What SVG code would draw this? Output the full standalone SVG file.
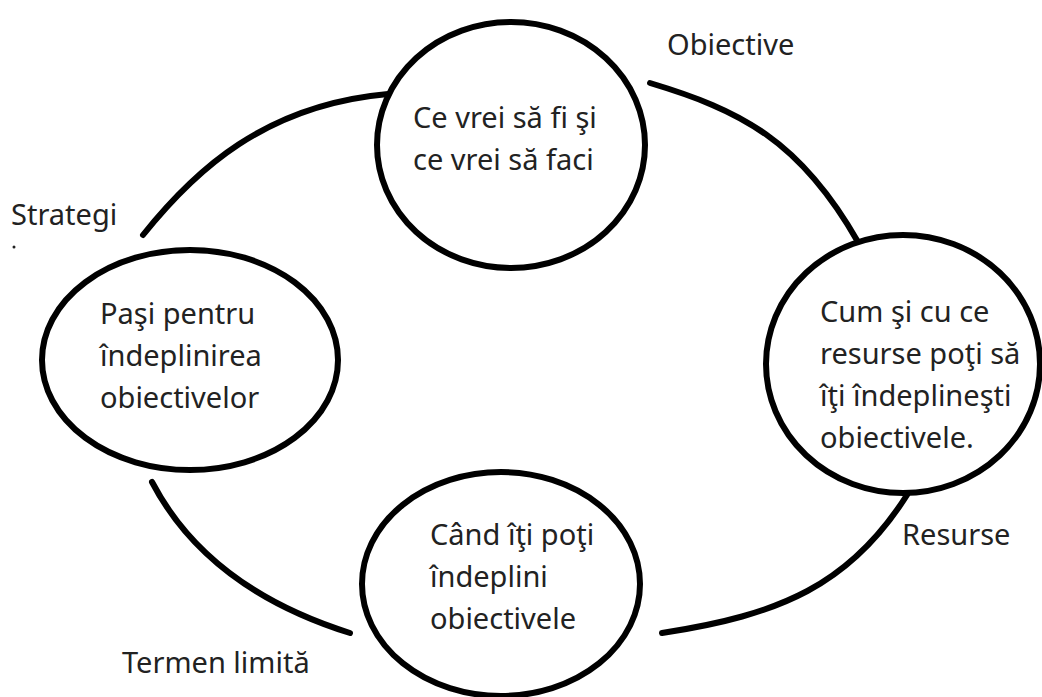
<svg xmlns="http://www.w3.org/2000/svg" width="1042" height="697" viewBox="0 0 1042 697">
<style>
.node{fill:#fff;stroke:#000;stroke-width:6}
.conn{fill:none;stroke:#000;stroke-width:6;stroke-linecap:round}
text{font-family:"Noto Sans","Open Sans","DejaVu Sans",sans-serif;font-size:29px;fill:#222}
</style>
<rect width="1042" height="697" fill="#fff"/>
<g id="connectors">
<path class="conn" d="M143,235 C195,170 265,105 388,94"/>
<path class="conn" d="M650,83 C740,110 800,140 858,242"/>
<path class="conn" d="M662,633 C780,615 850,585 907,495"/>
<path class="conn" d="M152,482 C185,545 245,600 350,633"/>
</g>
<g id="node-top">
<ellipse class="node" cx="511" cy="145" rx="134" ry="123"/>
<text x="413" y="128">Ce vrei să fi şi</text>
<text x="413" y="170">ce vrei să faci</text>
</g>
<g id="node-right">
<ellipse class="node" cx="903" cy="364" rx="137" ry="129"/>
<text x="820" y="322">Cum şi cu ce</text>
<text x="820" y="364">resurse poţi să</text>
<text x="820" y="406">îţi îndeplineşti</text>
<text x="820" y="448">obiectivele.</text>
</g>
<g id="node-left">
<ellipse class="node" cx="190" cy="360" rx="148" ry="110"/>
<text x="100" y="324">Paşi pentru</text>
<text x="100" y="366">îndeplinirea</text>
<text x="100" y="408">obiectivelor</text>
</g>
<g id="node-bottom">
<ellipse class="node" cx="501" cy="584" rx="139" ry="112"/>
<text x="430" y="545">Când îţi poţi</text>
<text x="430" y="587">îndeplini</text>
<text x="430" y="629">obiectivele</text>
</g>
<g id="labels">
<text x="667" y="55">Obiective</text>
<text x="11" y="225">Strategi</text>
<circle cx="14" cy="247" r="1.5" fill="#222"/>
<text x="902" y="545">Resurse</text>
<text x="122" y="673">Termen limită</text>
</g>
</svg>
